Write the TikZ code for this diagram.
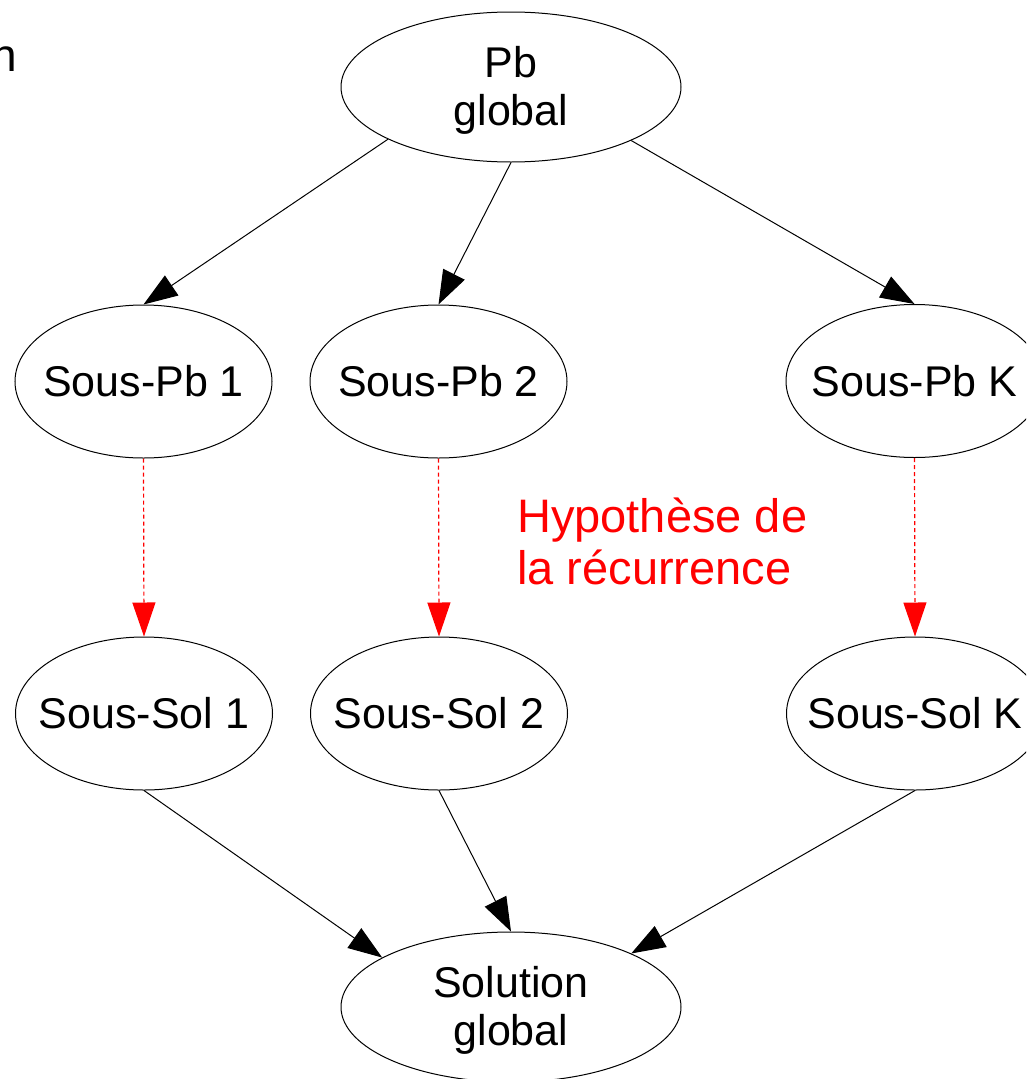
\documentclass[tikz,border=0pt]{standalone}
\usepackage{fontspec}
\setmainfont{Liberation Sans}
\usetikzlibrary{arrows.meta,shapes.geometric}
\begin{document}
\begin{tikzpicture}[x=1pt,y=-1pt,
  ell/.style={draw, ellipse, line width=1pt, inner sep=0pt, align=center,
    font=\fontsize{43}{48}\selectfont},
  big/.style={minimum width=340pt, minimum height=150pt},
  small/.style={minimum width=257pt, minimum height=153pt, inner xsep=-20pt},
  edge/.style={line width=1pt, -{Triangle[length=34pt,width=24pt]}},
  rec/.style={red, line width=1.2pt, dash pattern=on 4pt off 3pt,
    -{Triangle[length=34pt,width=23pt]}},
  txt/.style={inner sep=0pt, font=\fontsize{42}{47}\selectfont},
  redtxt/.style={inner sep=0pt, red, font=\fontsize{47}{52}\selectfont}
]
\useasboundingbox (0,0) rectangle (1026,1079);
\clip (0,0) rectangle (1026,1079);
\fill[white] (0,0) rectangle (1026,1079);

\node[txt, anchor=base east, font=\fontsize{46}{50}\selectfont] (cut) at (17,71) {n};

\node[ell,big] (pb) at (511,87) {\rule{0pt}{38pt}Pb\\global};
\node[ell,small] (sp1) at (143.5,381.5) {Sous-Pb 1};
\node[ell,small] (sp2) at (438.5,381.5) {Sous-Pb 2};
\node[ell,small] (spk) at (914.5,381) {Sous-Pb K};
\node[ell,small] (ss1) at (144,713.5) {Sous-Sol 1};
\node[ell,small] (ss2) at (439,713.5) {Sous-Sol 2};
\node[ell,small] (ssk) at (915,713.5) {Sous-Sol K};
\node[ell,big] (sol) at (511,1007) {\rule{0pt}{38pt}Solution\\global};

\node[redtxt, anchor=base west] (hyp1) at (517,532) {Hypothèse de};
\node[redtxt, anchor=base west] (hyp2) at (517,584) {la récurrence};

\draw[edge] (pb.203.7) -- (sp1.north);
\draw[edge] (pb.south) -- (sp2.north);
\draw[edge] (pb.-24) -- (spk.north);

\draw[rec] (sp1.south) -- (ss1.north);
\draw[rec] (sp2.south) -- (ss2.north);
\draw[rec] (spk.south) -- (ssk.north);

\draw[edge] (ss1.south) -- (sol.159.7);
\draw[edge] (ss2.south) -- (sol.north);
\draw[edge] (ssk.south) -- (sol.24.4);
\end{tikzpicture}
\end{document}
